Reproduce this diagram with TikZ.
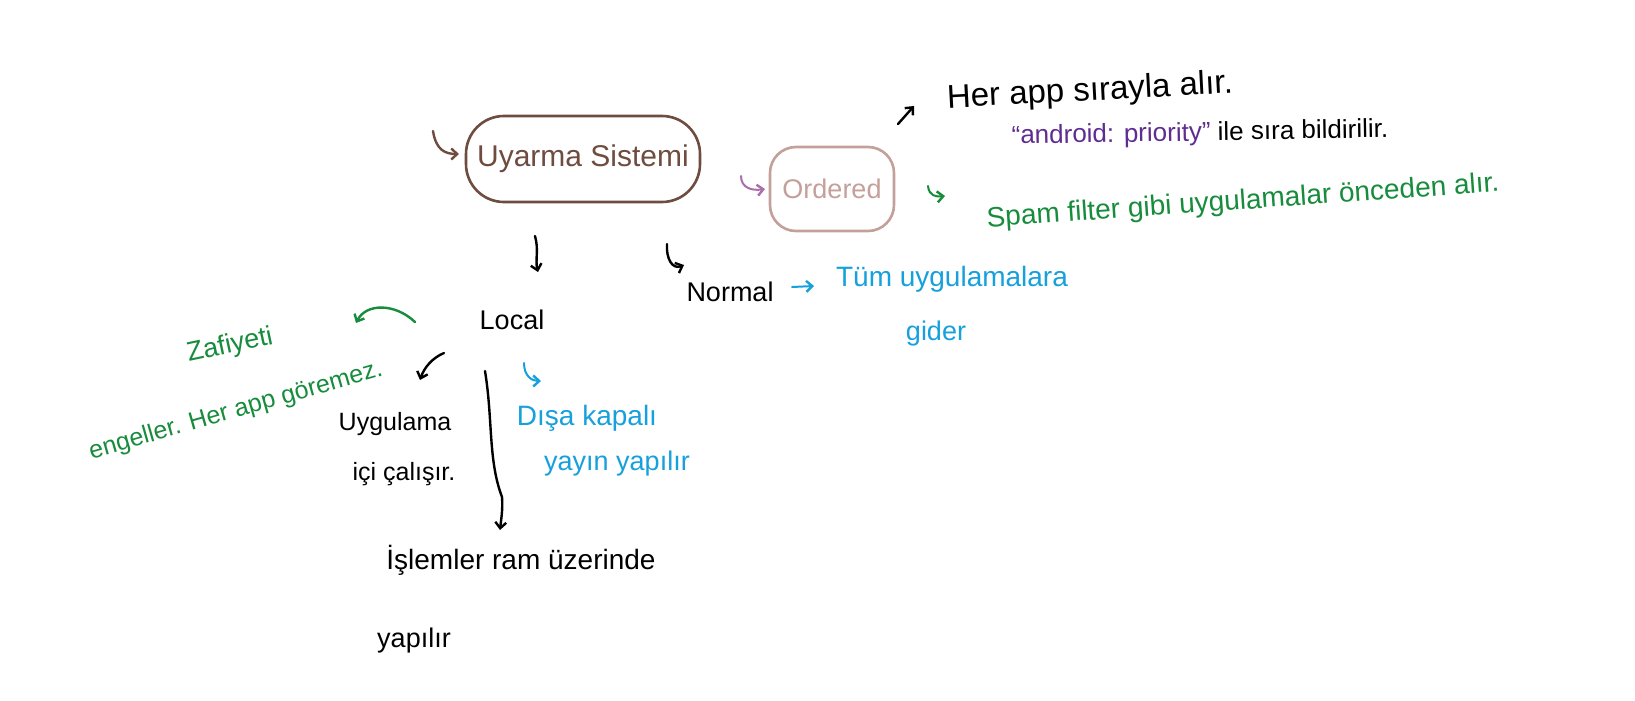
\documentclass[tikz,border=0pt]{standalone}
\usepackage{fontspec}
\setmainfont{Liberation Sans}
\usetikzlibrary{arrows.meta}
\definecolor{brownc}{RGB}{110,76,64}
\definecolor{ordc}{RGB}{196,160,155}
\definecolor{purpc}{RGB}{95,45,145}
\definecolor{purpl}{RGB}{170,110,170}
\definecolor{greenc}{RGB}{22,140,60}
\definecolor{bluec}{RGB}{22,160,220}
\begin{document}
\begin{tikzpicture}[x=1pt,y=-1pt,
  every node/.style={inner sep=0pt},
  txt/.style={font=\fontsize{27}{30}\selectfont},
  pen/.style={line width=2.4pt, line cap=round, line join=round, -{Straight Barb[length=6pt,width=11pt,line width=2.4pt]}},
  blob/.style={draw, line width=2.6pt, rounded corners=#1},
]
\useasboundingbox[fill=white] (0,0) rectangle (1635,701);

% main boxes
\node[blob=38pt, draw=brownc, text=brownc, font=\fontsize{30}{32}\selectfont,
      minimum width=234pt, minimum height=86pt] (us) at (583,159) {Uyarma Sistemi};
\node[blob=26pt, draw=ordc, text=ordc, font=\fontsize{27}{30}\selectfont,
      minimum width=124pt, minimum height=84pt] (ord) at (832,189) {Ordered};

% texts
\node[txt, font=\fontsize{33}{36}\selectfont, rotate=3] (her) at (1090,92) {Her app sırayla alır.};
\node[txt, font=\fontsize{26}{28}\selectfont, rotate=1] (prio) at (1200,134) {{\color{purpc}“android: priority”} ile sıra bildirilir.};
\node[txt, text=greenc, font=\fontsize{28}{30}\selectfont, rotate=4] (spam) at (1243,202) {Spam filter gibi uygulamalar önceden alır.};
\node[txt] (normal) at (730,292) {Normal};
\node[txt, text=bluec, font=\fontsize{28}{30}\selectfont] (tum) at (952,279) {Tüm uygulamalara};
\node[txt, text=bluec] (gider) at (936,334) {gider};
\node[txt] (local) at (512,320) {Local};
\node[txt, text=greenc, font=\fontsize{27}{28}\selectfont, rotate=12] (zaf) at (230,346) {Zafiyeti};
\node[txt, text=greenc, font=\fontsize{25}{28}\selectfont, rotate=16] (eng) at (236,411) {engeller. Her app göremez.};
\node[txt, font=\fontsize{25}{28}\selectfont] (uyg) at (395,424) {Uygulama};
\node[txt, font=\fontsize{25}{28}\selectfont] (ici) at (404,474) {içi çalışır.};
\node[txt, text=bluec, font=\fontsize{28}{30}\selectfont] (disa) at (587,418) {Dışa kapalı};
\node[txt, text=bluec] (yayin) at (617,464) {yayın yapılır};
\node[txt, font=\fontsize{28}{30}\selectfont] (islem) at (521,560) {İşlemler ram üzerinde};
\node[txt] (yap) at (414,641) {yapılır};

% arrow end points
\coordinate (h1a) at (433,131); \coordinate (h1b) at (459,154);
\coordinate (h2a) at (741,176); \coordinate (h2b) at (765,189);
\coordinate (h3a) at (898,124); \coordinate (h3b) at (914,106);
\coordinate (h4a) at (928,186); \coordinate (h4b) at (945,196);
\coordinate (d1a) at (535,236); \coordinate (d1b) at (538,272);
\coordinate (h5a) at (667,244); \coordinate (h5b) at (684,265);
\coordinate (b1a) at (792,287); \coordinate (b1b) at (814,286);
\coordinate (g1a) at (415,322); \coordinate (g1b) at (356,323);
\coordinate (c1a) at (444,353); \coordinate (c1b) at (420,380);
\coordinate (l1a) at (485,371); \coordinate (l1b) at (500,530);
\coordinate (h6a) at (524,363); \coordinate (h6b) at (541,381);

% arrows
\draw[pen, brownc] (h1a) .. controls (436,150) and (445,154) .. (h1b);
\draw[pen, purpl, line width=2pt] (h2a) .. controls (741,188) and (752,191) .. (h2b);
\draw[pen, black] (h3a) -- (h3b);
\draw[pen, greenc, line width=2pt] (h4a) .. controls (929,196) and (936,197) .. (h4b);
\draw[pen, black] (d1a) .. controls (539,250) and (535,260) .. (d1b);
\draw[pen, black] (h5a) .. controls (666,258) and (672,270) .. (h5b);
\draw[pen, bluec, line width=2pt] (b1a) -- (b1b);
\draw[pen, greenc] (g1a) .. controls (395,303) and (366,303) .. (g1b);
\draw[pen, black] (c1a) .. controls (432,358) and (424,368) .. (c1b);
\draw[pen, black] (l1a) .. controls (493,420) and (488,460) .. (502,497) .. controls (503,510) and (501,520) .. (l1b);
\draw[pen, bluec, line width=2pt] (h6a) .. controls (524,376) and (532,381) .. (h6b);
\end{tikzpicture}
\end{document}
